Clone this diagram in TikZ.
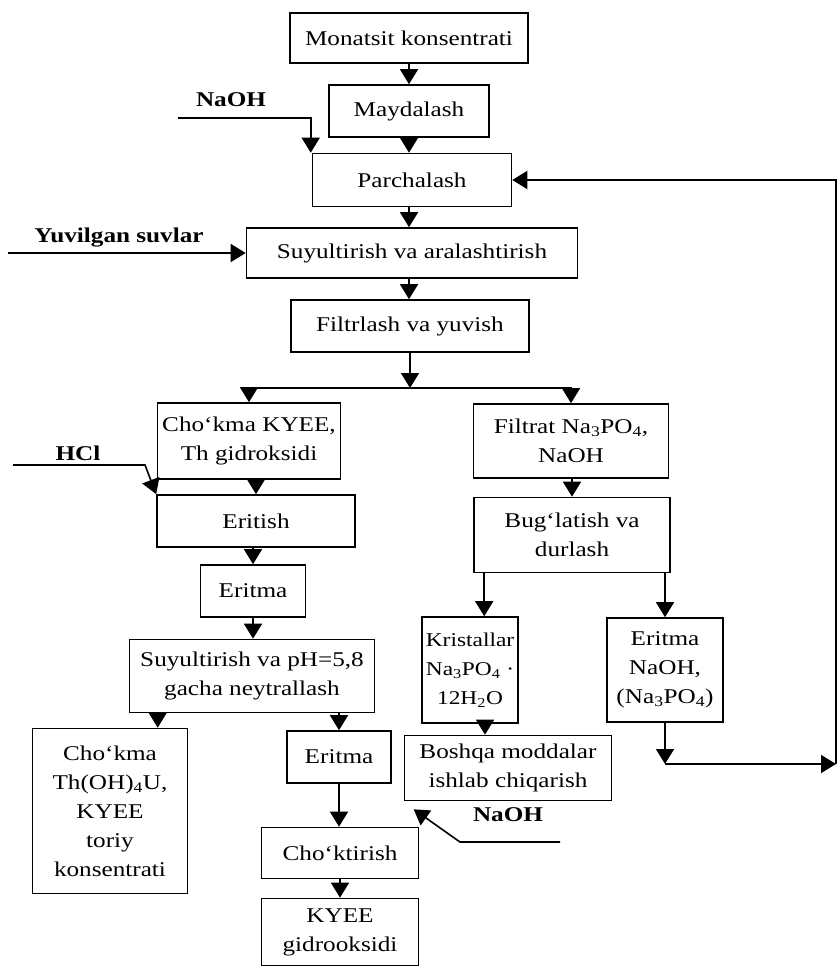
\documentclass[tikz,border=0pt]{standalone}
\usepackage{fontspec}
\setmainfont[FakeStretch=1.2]{Liberation Serif}
\usepackage{tikz}
\usetikzlibrary{arrows.meta}

\begin{document}
\begin{tikzpicture}[x=1pt, y=-1pt,
   every node/.style={font=\fontsize{21}{29}\selectfont},
   box/.style={draw, line width=1.6pt, align=center, inner sep=2pt},
   arr/.style={line width=1.6pt, -{Triangle[width=18pt,length=15pt]}},
   feed/.style={font=\fontsize{21}{25}\selectfont\bfseries}]
  \useasboundingbox (0,0) rectangle (838,973);

  \node[box, minimum width=238pt, minimum height=50pt] (mon) at (409,38) {Monatsit konsentrati};
  \node[box, minimum width=160pt, minimum height=52pt] (may) at (409,111) {Maydalash};
  \node[box, minimum width=199pt, minimum height=53pt] (par) at (412,180) {Parchalash};
  \node[box, minimum width=331pt, minimum height=50pt] (suy) at (412,253) {Suyultirish va aralashtirish};
  \node[box, minimum width=238pt, minimum height=52pt] (fil) at (410,326) {Filtrlash va yuvish};
  \node[box, minimum width=183pt, minimum height=76pt] (chk) at (249,441) {Cho‘kma KYEE,\\Th gidroksidi};
  \node[box, minimum width=195pt, minimum height=74pt] (ftr) at (571,441) {Filtrat Na\textsubscript{3}PO\textsubscript{4},\\NaOH};
  \node[box, minimum width=198pt, minimum height=52pt] (eri) at (256,521) {Eritish};
  \node[box, minimum width=196pt, minimum height=75pt] (bug) at (572,535) {Bug‘latish va\\durlash};
  \node[box, minimum width=105pt, minimum height=52pt] (erm) at (253,591) {Eritma};
  \node[box, minimum width=245pt, minimum height=73pt] (neu) at (252,676) {Suyultirish va pH=5,8\\gacha neytrallash};
  \node[box, minimum width=96pt, minimum height=106pt, inner xsep=0pt,
        font=\fontsize{19.5}{29}\selectfont] (kri) at (470,670) {Kristallar\\Na\textsubscript{3}PO\textsubscript{4} ·\\12H\textsubscript{2}O};
  \node[box, minimum width=116pt, minimum height=104pt] (ern) at (665,670) {Eritma\\NaOH,\\(Na\textsubscript{3}PO\textsubscript{4})};
  \node[box, minimum width=155pt, minimum height=165pt] (thk) at (110,811) {Cho‘kma\\Th(OH)\textsubscript{4}U,\\KYEE\\toriy\\konsentrati};
  \node[box, minimum width=104pt, minimum height=52pt] (er2) at (339,757) {Eritma};
  \node[box, minimum width=207pt, minimum height=65pt] (bos) at (508,768) {Boshqa moddalar\\ishlab chiqarish};
  \node[box, minimum width=157pt, minimum height=51pt] (cht) at (340,853) {Cho‘ktirish};
  \node[box, minimum width=157pt, minimum height=67pt] (kyg) at (340,932) {KYEE\\gidrooksidi};

  \node[feed] (naoh1) at (231,100) {NaOH};
  \node[feed] (yuv) at (119,238) {Yuvilgan suvlar};
  \node[feed] (hcl) at (78,453) {HCl};
  \node[feed] (naoh2) at (508,815) {NaOH};

  \coordinate (inA) at (178,118);
  \coordinate (inB) at (8,253);
  \coordinate (inC) at (13,465);
  \coordinate (inD) at (560,842);
  \coordinate (br) at (410,388);
  \coordinate (ret) at (665,764);
  \coordinate (ret2) at (836,764);

  \draw[arr] (mon) -- (may);
  \draw[arr] (may.south) -- (may.south |- par.north);
  \draw[arr] (may.south |- par.south) -- (may.south |- suy.north);
  \draw[arr] (may.south |- suy.south) -- (may.south |- fil.north);
  \draw[arr] (fil.south) -- (br);
  \draw[arr] (br) -| (chk.north);
  \draw[arr] (br) -| (ftr.north);
  \draw[arr] (chk.south -| eri.north) -- (eri.north);
  \draw[arr] (eri.south -| erm.north) -- (erm.north);
  \draw[arr] (erm.south) -- (erm.south |- neu.north);
  \draw[arr] ([xshift=29pt]neu.south west) -- ([xshift=29pt]neu.south west |- thk.north);
  \draw[arr] (neu.south -| er2.north) -- (er2.north);
  \draw[arr] (er2.south) -- (er2.south |- cht.north);
  \draw[arr] (cht) -- (kyg);
  \draw[arr] (ftr.south -| bug.north) -- (bug.north);
  \draw[arr] ([xshift=11pt]bug.south west) -- ([xshift=11pt]bug.south west |- kri.north);
  \draw[arr] (bug.south -| ern.north) -- (ern.north);
  \draw[arr] ([xshift=15pt]kri.south) -- ([xshift=15pt]kri.south |- bos.north);
  \draw[arr] (ern.south) -- (ret);
  \draw[arr] (ret) -- (ret2);
  \draw[arr] (ret2) |- (par.east);
  \draw[arr] (inA) -| ([xshift=-1pt]par.north west);
  \draw[arr] (inB) -- (suy.west);
  \draw[arr] (inC) -- ++(132,0) -- (eri.north west);
  \draw[arr] (inD) -- ++(-100,0) -- ([xshift=10pt,yshift=-8pt]bos.south west);
\end{tikzpicture}
\end{document}
